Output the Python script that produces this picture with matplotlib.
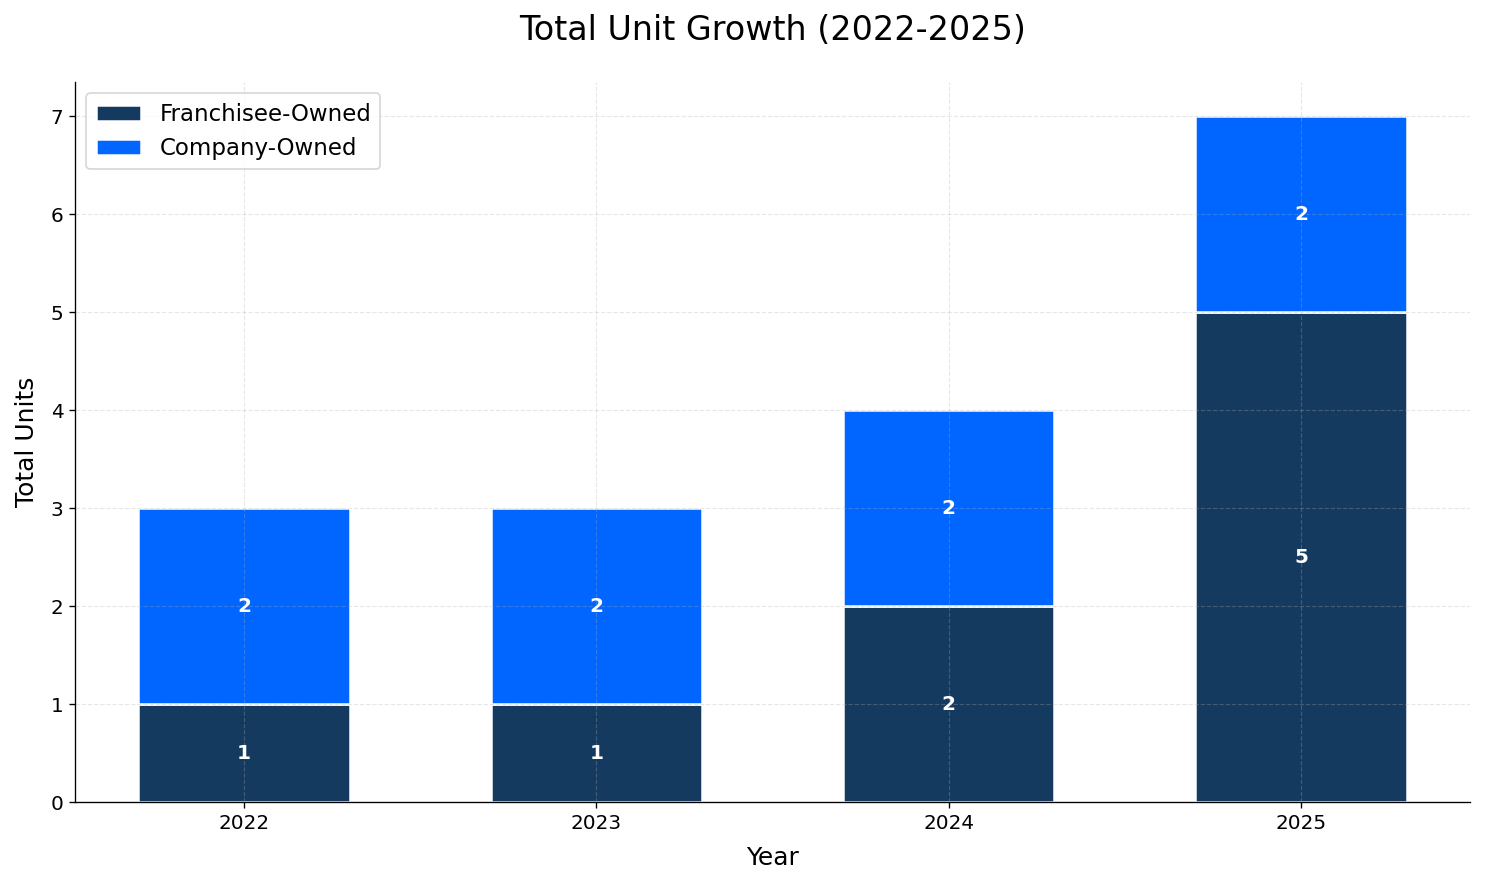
import numpy as np
import matplotlib
matplotlib.use("Agg")
from matplotlib import pyplot as plt

years = ["2022", "2023", "2024", "2025"]
franchisee = [1, 1, 2, 5]
company = [2, 2, 2, 2]

c_fr = "#153A5F"
c_co = "#0066FF"

W, H = 1485, 884
fig = plt.figure(figsize=(W/120, H/120), dpi=120)
ax = fig.add_axes([75/W, 82/H, (1470-75)/W, (802-82)/H])

x = np.arange(len(years))
w = 0.6
ax.bar(x, franchisee, w, color=c_fr, edgecolor="white", linewidth=1.5,
       label="Franchisee-Owned")
ax.bar(x, company, w, bottom=franchisee, color=c_co, edgecolor="white",
       linewidth=1.5, label="Company-Owned")

for i in range(len(years)):
    ax.text(x[i], franchisee[i] / 2, str(franchisee[i]), ha="center", va="center",
            color="white", fontsize=12, fontweight="bold")
    ax.text(x[i], franchisee[i] + company[i] / 2, str(company[i]), ha="center",
            va="center", color="white", fontsize=12, fontweight="bold")

ax.set_xticks(x)
ax.set_xticklabels(years, fontsize=12)
ax.tick_params(axis="y", labelsize=12)
ax.set_ylim(0, 7.35)
ax.set_xlim(-0.48, 3.48)
ax.grid(True, linestyle="--", alpha=0.3, linewidth=0.7)
ax.spines["top"].set_visible(False)
ax.spines["right"].set_visible(False)
ax.set_xlabel("Year", fontsize=15, labelpad=8)
ax.set_ylabel("Total Units", fontsize=15, labelpad=7)
ax.set_title("Total Unit Growth (2022-2025)", fontsize=20, pad=25)
ax.legend(loc="upper left", fontsize=13.7)

fig.savefig("out.png", dpi=120)
